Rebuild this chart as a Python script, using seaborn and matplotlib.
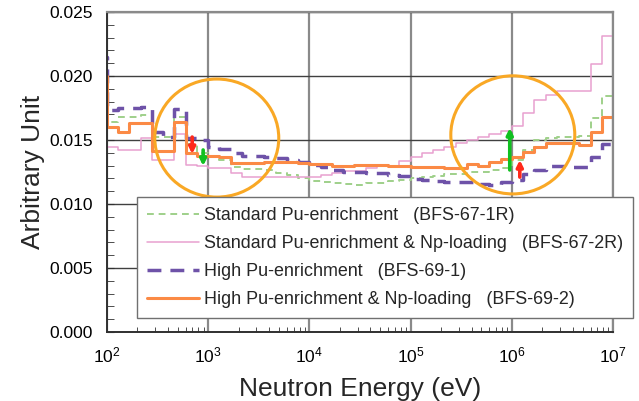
import numpy as np
import pandas as pd
import matplotlib
matplotlib.use("Agg")
import matplotlib.pyplot as plt
from matplotlib.patches import Ellipse
import seaborn as sns

## group boundaries (eV), 9 groups per decade, one group below 1e2 so the left edge shows the jump
edges = [77.43,
         100, 129.2, 166.8, 215.4, 278.3, 359.4, 464.2, 599.5, 774.3,
         1.0e3, 1.292e3, 1.668e3, 2.154e3, 2.783e3, 3.594e3, 4.642e3, 5.995e3, 7.743e3,
         1.0e4, 1.292e4, 1.668e4, 2.154e4, 2.783e4, 3.594e4, 4.642e4, 5.995e4, 7.743e4,
         1.0e5, 1.292e5, 1.668e5, 2.154e5, 2.783e5, 3.594e5, 4.642e5, 5.995e5, 7.743e5,
         1.0e6, 1.292e6, 1.668e6, 2.154e6, 2.783e6, 3.594e6, 4.642e6, 5.995e6, 7.743e6,
         1.0e7]

## group values
bfs_67_1r = [0.0170,
             0.01641, 0.01680, 0.01680, 0.01695, 0.01523, 0.01523, 0.01680, 0.01469, 0.01398,
             0.01367, 0.01344, 0.01289, 0.01273, 0.01273, 0.01266, 0.01242, 0.01227, 0.01203,
             0.01180, 0.01172, 0.01164, 0.01156, 0.01148, 0.01164, 0.01164, 0.01180, 0.01188,
             0.01203, 0.01211, 0.01219, 0.01234, 0.01234, 0.01250, 0.01250, 0.01266, 0.01281,
             0.01344, 0.01422, 0.01500, 0.01516, 0.01523, 0.01523, 0.01531, 0.01672, 0.01844]
bfs_67_2r = [0.0150,
             0.01445, 0.01422, 0.01422, 0.01516, 0.01344, 0.01344, 0.01547, 0.01305, 0.01297,
             0.01281, 0.01281, 0.01242, 0.01211, 0.01211, 0.01211, 0.01211, 0.01211, 0.01211,
             0.01211, 0.01227, 0.01242, 0.01258, 0.01258, 0.01281, 0.01297, 0.01297, 0.01336,
             0.01367, 0.01398, 0.01422, 0.01445, 0.01477, 0.01500, 0.01523, 0.01547, 0.01570,
             0.01609, 0.01711, 0.01813, 0.01852, 0.01883, 0.01883, 0.01883, 0.02094, 0.02313]
bfs_69_1 = [0.0215,
            0.01734, 0.01750, 0.01750, 0.01758, 0.01563, 0.01523, 0.01742, 0.01516, 0.01500,
            0.01445, 0.01430, 0.01398, 0.01375, 0.01375, 0.01367, 0.01359, 0.01344, 0.01328,
            0.01305, 0.01289, 0.01266, 0.01250, 0.01250, 0.01242, 0.01242, 0.01227, 0.01219,
            0.01195, 0.01188, 0.01180, 0.01172, 0.01172, 0.01172, 0.01156, 0.01148, 0.01172,
            0.01188, 0.01234, 0.01266, 0.01297, 0.01297, 0.01289, 0.01289, 0.01367, 0.01469]
bfs_69_2 = [0.0200,
            0.01602, 0.01563, 0.01633, 0.01633, 0.01414, 0.01414, 0.01641, 0.01398, 0.01375,
            0.01375, 0.01367, 0.01320, 0.01320, 0.01320, 0.01328, 0.01328, 0.01328, 0.01320,
            0.01313, 0.01313, 0.01297, 0.01297, 0.01305, 0.01305, 0.01305, 0.01297, 0.01297,
            0.01289, 0.01289, 0.01289, 0.01281, 0.01281, 0.01313, 0.01297, 0.01328, 0.01352,
            0.01367, 0.01406, 0.01445, 0.01477, 0.01477, 0.01477, 0.01461, 0.01563, 0.01680]

labels = ["Standard Pu-enrichment   (BFS-67-1R)",
          "Standard Pu-enrichment & Np-loading   (BFS-67-2R)",
          "High Pu-enrichment   (BFS-69-1)",
          "High Pu-enrichment & Np-loading   (BFS-69-2)"]

## arrows: (energy, tail value, head value, colour)
arrows = [(695, 0.01523, 0.01390, "#ff2a1a"),
          (892, 0.01422, 0.01297, "#10c020"),
          (9.55e5, 0.01266, 0.01594, "#10c020"),
          (1.2e6, 0.01210, 0.01344, "#ff2a1a")]

sns.set_style("white")
plt.rcParams["font.family"] = ["Liberation Sans", "DejaVu Sans"]
plt.rcParams["mathtext.fontset"] = "custom"
plt.rcParams["mathtext.rm"] = "Liberation Sans"

## long format table, last value repeated so the final step reaches 1e7
frames = []
for lab, vals in zip(labels, [bfs_67_1r, bfs_67_2r, bfs_69_1, bfs_69_2]):
    frames.append(pd.DataFrame({"energy": edges,
                                "value": list(vals) + [vals[-1]],
                                "series": lab}))
df = pd.concat(frames, ignore_index=True)

colors = dict(zip(labels, ["#9fd08a", "#e8a0d0", "#6e52a8", "#fb8a45"]))
widths = dict(zip(labels, [1.4, 1.1, 2.5, 2.2]))
dashes = dict(zip(labels, [(3.5, 2.5), "", (4.0, 2.6), ""]))

fig = plt.figure(figsize=(6.39, 4.01), dpi=100)
ax = fig.add_axes([0.1674, 0.1721, 0.7919, 0.7980])

sns.lineplot(data=df, x="energy", y="value", hue="series", style="series", size="series",
             palette=colors, dashes=dashes, sizes=widths, estimator=None, sort=False,
             drawstyle="steps-post", legend=False, ax=ax)
series_lines = ax.get_lines()[:4]

ax.set_xscale("log")
ax.set_xlim(100, 1e7)
ax.set_ylim(0, 0.025)
ax.set_yticks(np.arange(0, 0.0251, 0.005))
ax.set_yticks(np.arange(0, 0.0251, 0.001), minor=True)
ax.yaxis.set_major_formatter(matplotlib.ticker.FormatStrFormatter("%.3f"))

ax.grid(True, axis="y", which="major", color="#404040", lw=1.0)
ax.grid(True, axis="x", which="major", color="#8a8a8a", lw=1.6)
ax.set_axisbelow(True)
for s in ["left", "bottom"]:
    ax.spines[s].set_color("#303030")
    ax.spines[s].set_linewidth(1.4)
for s in ["top", "right"]:
    ax.spines[s].set_color("#8a8a8a")
    ax.spines[s].set_linewidth(1.6)

ax.tick_params(axis="both", which="both", direction="in", left=True, bottom=True,
               colors="#303030", labelcolor="black", labelsize=12.5)
ax.tick_params(axis="y", which="both", length=5, pad=10)
ax.tick_params(axis="x", which="major", length=0, pad=10)
ax.tick_params(axis="x", which="minor", length=3.5)

ax.set_xlabel("Neutron Energy (eV)", fontsize=19, labelpad=8)
ax.set_ylabel("Arbitrary Unit", fontsize=19, labelpad=3)

## highlight circles (axes fractions)
for cx, cy in [(0.217, 0.606), (0.802, 0.616)]:
    ax.add_patch(Ellipse((cx, cy), 0.245, 0.369, transform=ax.transAxes, fill=False,
                         edgecolor="#f9a825", lw=2.2, zorder=5))

for e, y0, y1, c in arrows:
    ax.annotate("", xy=(e, y1), xytext=(e, y0),
                arrowprops=dict(arrowstyle="-|>", color=c, lw=2.6, mutation_scale=9,
                                shrinkA=0, shrinkB=0), zorder=6)

leg = ax.legend(series_lines, labels, loc="upper left", bbox_to_anchor=(0.2144, 0.5087),
                bbox_transform=fig.transFigure, fontsize=12.9, frameon=True, fancybox=False,
                framealpha=1, edgecolor="#707070", handlelength=2.9, handletextpad=0.3,
                labelspacing=0.62, borderpad=0.55, borderaxespad=0)
leg.get_frame().set_linewidth(1.0)
leg.set_zorder(10)

plt.savefig("out.png", dpi=100)
